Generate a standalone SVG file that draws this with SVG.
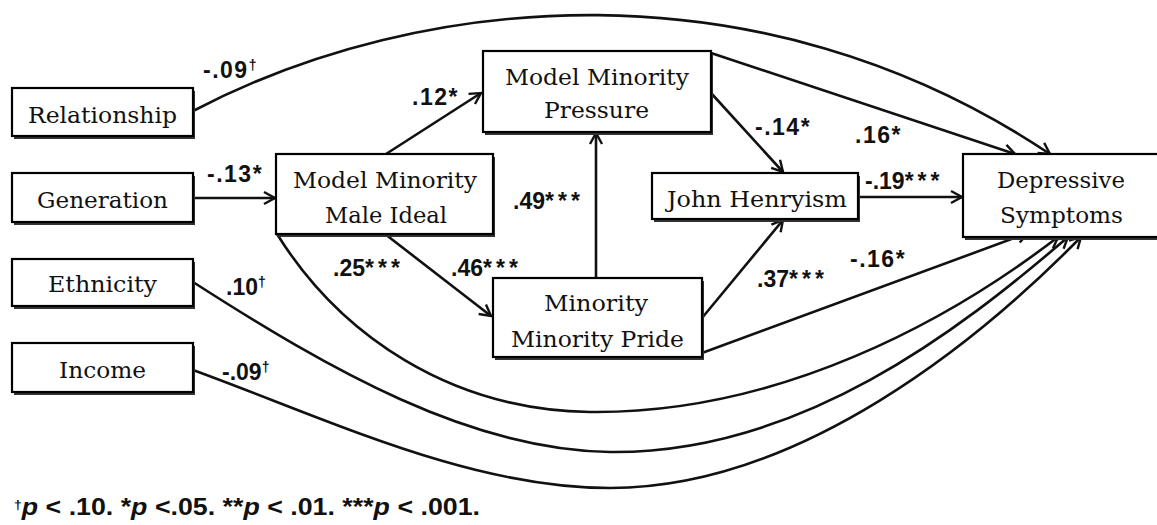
<svg xmlns="http://www.w3.org/2000/svg" width="1157" height="525" viewBox="0 0 1157 525">
<style>
.box{fill:#fff;stroke:#000;stroke-width:2.2}
.sh{fill:#333}
.nt{font-family:"DejaVu Serif","Liberation Serif",serif;font-size:22px;fill:#111}
.lb{font-family:"Liberation Sans",Arial,sans-serif;font-weight:bold;font-size:23px;fill:#111}
.s1{letter-spacing:1.5px}
.st{letter-spacing:4px}
.dg{font-size:14px}
.ln{fill:none;stroke:#111;stroke-width:2.6}
</style>
<defs>
<marker id="ah" markerUnits="userSpaceOnUse" viewBox="-13 -8 15 16" refX="0" refY="0" markerWidth="15" markerHeight="16" orient="auto">
<path d="M-11,-6 L0,0 L-11,6" fill="none" stroke="#111" stroke-width="2.4" stroke-linejoin="miter"/>
</marker>
</defs>
<rect width="1157" height="525" fill="#fff"/>
<g id="connectors">
<path class="ln" d="M193,111 C420,-8 760,-40 1050,154" marker-end="url(#ah)"/>
<path class="ln" d="M711,53 L1015,154" marker-end="url(#ah)"/>
<path class="ln" d="M711,93 L783,172" marker-end="url(#ah)"/>
<path class="ln" d="M858,197 L962,197" marker-end="url(#ah)"/>
<path class="ln" d="M193,198 L275,198" marker-end="url(#ah)"/>
<path class="ln" d="M386,154 L481,93" marker-end="url(#ah)"/>
<path class="ln" d="M385,234 L491,316" marker-end="url(#ah)"/>
<path class="ln" d="M596,278 L596,133" marker-end="url(#ah)"/>
<path class="ln" d="M702,318 L783,220" marker-end="url(#ah)"/>
<path class="ln" d="M702,353 L1028,233" marker-end="url(#ah)"/>
<path class="ln" d="M277,234 C340,335 450,410 590,412 C780,414 950,320 1058,237" marker-end="url(#ah)"/>
<path class="ln" d="M193,282 C330,370 470,450 610,452 C800,454 960,330 1068,237" marker-end="url(#ah)"/>
<path class="ln" d="M193,370 C330,420 470,488 610,488 C800,488 980,340 1081,237" marker-end="url(#ah)"/>
</g>
<g id="labels">
<text class="lb s1" x="203" y="78">-.09<tspan class="dg" dy="-8">†</tspan></text>
<text class="lb s1" x="207" y="182">-.13*</text>
<text class="lb s1" x="412" y="105">.12*</text>
<text class="lb" x="513" y="209">.49<tspan class="st">***</tspan></text>
<text class="lb" x="333" y="276">.25<tspan class="st">***</tspan></text>
<text class="lb" x="451" y="276">.46<tspan class="st">***</tspan></text>
<text class="lb s1" x="755" y="135">-.14*</text>
<text class="lb s1" x="855" y="143">.16*</text>
<text class="lb" x="865" y="189">-.19<tspan class="st">***</tspan></text>
<text class="lb" x="757" y="287">.37<tspan class="st">***</tspan></text>
<text class="lb s1" x="850" y="267">-.16*</text>
<text class="lb" x="226" y="295">.10<tspan class="dg" dy="-8">†</tspan></text>
<text class="lb" x="222" y="380">-.09<tspan class="dg" dy="-8">†</tspan></text>
</g>
<g id="relationship">
<rect class="sh" x="14" y="91" width="181" height="48"/>
<rect class="box" x="12" y="88" width="181" height="48"/>
<text class="nt" x="28" y="123" textLength="149" lengthAdjust="spacingAndGlyphs">Relationship</text>
</g>
<g id="generation">
<rect class="sh" x="14" y="176" width="181" height="49"/>
<rect class="box" x="12" y="173" width="181" height="49"/>
<text class="nt" x="37" y="208" textLength="131" lengthAdjust="spacingAndGlyphs">Generation</text>
</g>
<g id="ethnicity">
<rect class="sh" x="14" y="262" width="181" height="47"/>
<rect class="box" x="12" y="259" width="181" height="47"/>
<text class="nt" x="48" y="292" textLength="109" lengthAdjust="spacingAndGlyphs">Ethnicity</text>
</g>
<g id="income">
<rect class="sh" x="14" y="346" width="181" height="49"/>
<rect class="box" x="12" y="343" width="181" height="49"/>
<text class="nt" x="59" y="378" textLength="87" lengthAdjust="spacingAndGlyphs">Income</text>
</g>
<g id="male-ideal">
<rect class="sh" x="278" y="157" width="217" height="80"/>
<rect class="box" x="276" y="154" width="217" height="80"/>
<text class="nt" x="293" y="188" textLength="184" lengthAdjust="spacingAndGlyphs">Model Minority</text>
<text class="nt" x="325" y="223" textLength="122" lengthAdjust="spacingAndGlyphs">Male Ideal</text>
</g>
<g id="pressure">
<rect class="sh" x="485" y="54" width="228" height="81"/>
<rect class="box" x="483" y="51" width="228" height="81"/>
<text class="nt" x="505" y="85" textLength="184" lengthAdjust="spacingAndGlyphs">Model Minority</text>
<text class="nt" x="544" y="118" textLength="105" lengthAdjust="spacingAndGlyphs">Pressure</text>
</g>
<g id="john-henryism">
<rect class="sh" x="654" y="176" width="206" height="46"/>
<rect class="box" x="652" y="173" width="206" height="46"/>
<text class="nt" x="667" y="207" textLength="180" lengthAdjust="spacingAndGlyphs">John Henryism</text>
</g>
<g id="pride">
<rect class="sh" x="495" y="281" width="209" height="79"/>
<rect class="box" x="493" y="278" width="209" height="79"/>
<text class="nt" x="544" y="311" textLength="104" lengthAdjust="spacingAndGlyphs">Minority</text>
<text class="nt" x="511" y="347" textLength="173" lengthAdjust="spacingAndGlyphs">Minority Pride</text>
</g>
<g id="depressive">
<rect class="sh" x="965" y="157" width="200" height="83"/>
<rect class="box" x="963" y="154" width="200" height="83"/>
<text class="nt" x="997" y="188" textLength="128" lengthAdjust="spacingAndGlyphs">Depressive</text>
<text class="nt" x="1000" y="223" textLength="123" lengthAdjust="spacingAndGlyphs">Symptoms</text>
</g>
<g id="footnote">
<text class="lb" x="14" y="515" font-size="19" textLength="466" lengthAdjust="spacingAndGlyphs"><tspan font-size="12" dy="-6">†</tspan><tspan font-style="italic" dy="6">p</tspan> &lt; .10. *<tspan font-style="italic">p</tspan> &lt;.05. **<tspan font-style="italic">p</tspan>  &lt; .01. ***<tspan font-style="italic">p</tspan> &lt; .001.</text>
</g>
</svg>
